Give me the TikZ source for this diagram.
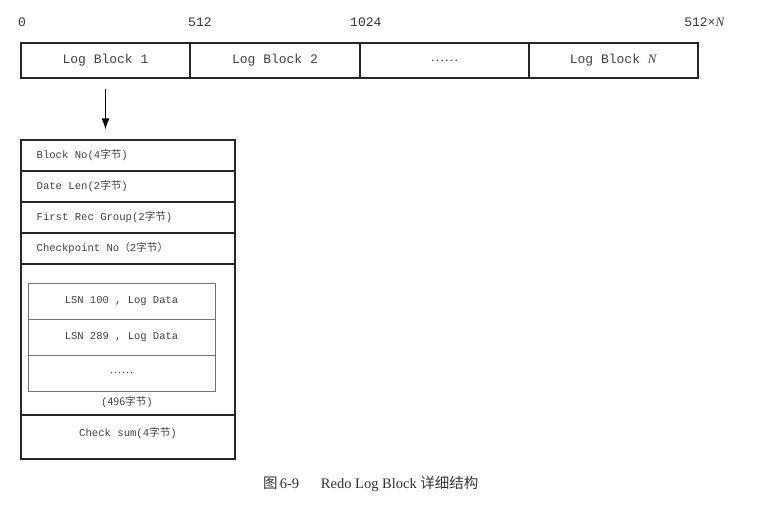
\documentclass[tikz,border=0pt]{standalone}
\usepackage{fontspec}
\setmainfont{Liberation Serif}
\setmonofont{Liberation Mono}
\newfontfamily\cjk{Noto Sans CJK SC}
\usetikzlibrary{arrows.meta}

\tikzset{
	field/.style={draw=black!85, line width=1.1pt, minimum width=169pt, minimum height=35pt, inner sep=0pt, font=\ttfamily\fontsize{13}{15}\selectfont, text=black!75},
	row/.style={draw=black!85, line width=1.1pt, minimum width=214pt, minimum height=31pt, inner sep=0pt},
	rowtext/.style={anchor=west, inner sep=0pt, font=\ttfamily\fontsize{10.6}{12}\selectfont, text=black!75},
	entry/.style={draw=black!55, line width=1pt, minimum width=187pt, minimum height=36pt, inner sep=0pt, font=\ttfamily\fontsize{10.5}{12}\selectfont, text=black!75},
	offset/.style={inner sep=0pt, font=\ttfamily\fontsize{13}{15}\selectfont, text=black!80},
}

\begin{document}
\begin{tikzpicture}[x=1pt, y=-1pt]
		\useasboundingbox (0, 0) rectangle (759, 506);

		% log blocks
		\node[field]	(b1) at (105.5, 60.5) {Log Block 1};
		\node[field]	(b2) at (275, 60.5) {Log Block 2};
		\node[field]	(b3) at (444.5, 60.5) {\rmfamily\fontsize{14}{16}\selectfont ……};
		\node[field]	(bN) at (613.5, 60.5) {Log Block \textrm{\itshape N}};

		\node[offset, anchor=west]	(o0) at (18, 22) {0};
		\node[offset, anchor=west]	(o1) at (188, 22) {512};
		\node[offset, anchor=west]	(o2) at (350, 22) {1024};
		\node[offset, anchor=east]	(oN) at (725, 22) {512×\textrm{\itshape N}};

		% block detail
		\node[row]	(r1) at (128, 155.5) {};
		\node[row]	(r2) at (128, 186.5) {};
		\node[row]	(r3) at (128, 217.5) {};
		\node[row]	(r4) at (128, 248.5) {};
		\node[row, minimum height=151pt]	(body) at (128, 339.5) {};
		\node[row, minimum height=44pt]	(sum) at (128, 437) {};
		\node[rowtext]	(t1) at ([xshift=16pt]r1.west) {Block No(4{\cjk 字节})};
		\node[rowtext]	(t2) at ([xshift=16pt]r2.west) {Date Len(2{\cjk 字节})};
		\node[rowtext]	(t3) at ([xshift=16pt]r3.west) {First Rec Group(2{\cjk 字节})};
		\node[rowtext]	(t4) at ([xshift=16pt]r4.west) {Checkpoint No{\cjk （}2{\cjk 字节）}};
		\node[rowtext, anchor=center]	(ts) at ([yshift=4pt]sum.center) {Check sum(4{\cjk 字节})};

		\node[entry]	(e1) at (121.5, 301) {LSN 100 , Log Data};
		\node[entry]	(e2) at (121.5, 337) {LSN 289 , Log Data};
		\node[entry]	(e3) at (121.5, 373) {\rmfamily\fontsize{12}{14}\selectfont ……};
		\node[inner sep=0pt, text=black!75, font=\ttfamily\fontsize{10.6}{12}\selectfont]	(size) at (127, 402) {({\cjk 496字节})};

		\draw[-{Latex[length=11pt, width=8pt]}, line width=1.4pt]	([yshift=-10pt]b1.south) to ([yshift=10pt]b1.south |- r1.north);

		% caption
		\node[anchor=west, inner sep=0pt, text=black!80, font=\fontsize{14.5}{17}\selectfont]	(cap) at (263, 484) {{\cjk 图}\hspace{0.15em}6-9\hspace{1.5em}Redo Log Block {\cjk 详细结构}};
	\end{tikzpicture}
\end{document}
